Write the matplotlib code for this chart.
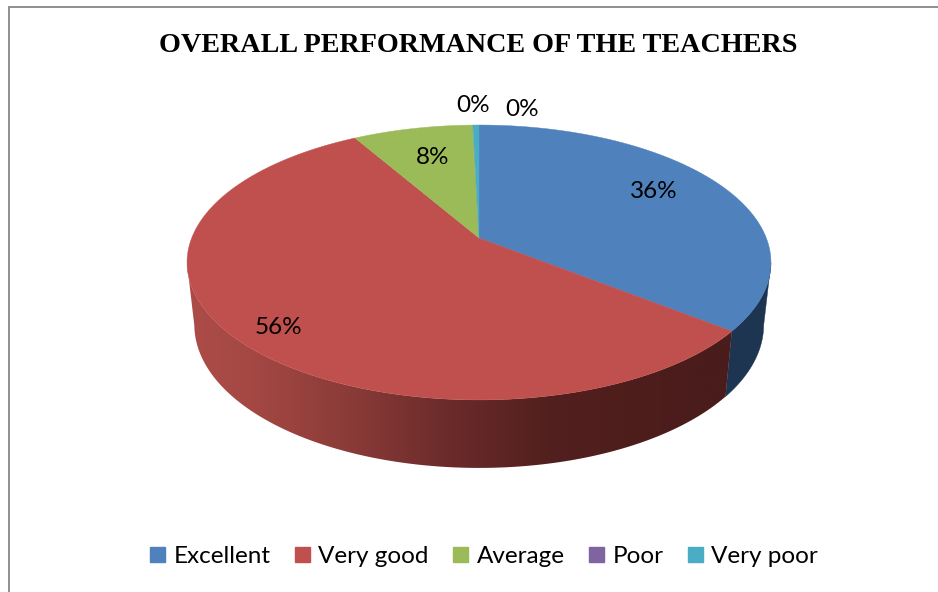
import numpy as np
import matplotlib
matplotlib.use("Agg")
import matplotlib.pyplot as plt
from matplotlib.patches import Rectangle, Polygon

title = "OVERALL PERFORMANCE OF THE TEACHERS"
categories = ["Excellent", "Very good", "Average", "Poor", "Very poor"]
shares = [35.7, 56.0, 7.9, 0.0, 0.4]

top_colors = ["#4F81BD", "#C0504D", "#9BBB59", "#8064A2", "#4BACC6"]
side_dark = ["#1D3550", None, "#5F7537", "#4A3A60", "#2A6A7A"]
red_x = [187, 250, 350, 450, 550, 700, 735]
red_rgb = np.array([[172, 76, 72], [165, 72, 68], [138, 59, 56], [106, 43, 42],
                    [82, 32, 30], [74, 28, 27], [74, 28, 27]]) / 255

fig = plt.figure(figsize=(9.38, 5.92), dpi=100)
ax = fig.add_axes([0, 0, 1, 1])
ax.axis("off")

# chart frame (left and top edges visible)
ax.plot([8.5, 8.5, 938], [592, 6.5, 6.5], color="#868686", lw=1.3, solid_joinstyle="miter")

CX, CY, K, A, B = 479.0, 238.0, 0.178, 287.3, 133.1


def top_xy(theta):
    """theta: clockwise from 12 o'clock, radians."""
    u, v = np.sin(theta), np.cos(theta)
    den = 1 + K * v
    return CX + A * u / den, CY - B * v / den


def bottom_xy(theta):
    x, y = top_xy(theta)
    return CX + 0.975 * (x - CX), y + 61 - 7 * np.cos(theta)


edges = np.cumsum([0] + shares) / 100 * 2 * np.pi

# side wall
for i, col in enumerate(side_dark):
    t0, t1 = edges[i], edges[i + 1]
    if t1 <= t0:
        continue
    th = np.linspace(t0, t1, 400)
    th = th[np.cos(th) <= -K]
    if th.size < 2:
        continue
    xt, yt = top_xy(th)
    xb, yb = bottom_xy(th)
    verts = np.c_[np.r_[xt, xb[::-1]], np.r_[yt, yb[::-1]]]
    if col is None:
        poly = Polygon(verts, closed=True, transform=ax.transData, fc="none", ec="none")
        ax.add_patch(poly)
        grid_x = np.arange(180, 741)
        grad = np.stack([np.interp(grid_x, red_x, red_rgb[:, j]) for j in range(3)], axis=-1)[None, :, :]
        im = ax.imshow(grad, extent=(180, 740, 480, 200), aspect="auto", zorder=2,
                       interpolation="bilinear")
        im.set_clip_path(poly)
    else:
        ax.fill(verts[:, 0], verts[:, 1], color=col, lw=0.3, zorder=2)

ax.set_xlim(0, 938)
ax.set_ylim(592, 0)

# top face
for i, col in enumerate(top_colors):
    t0, t1 = edges[i], edges[i + 1]
    if t1 <= t0:
        continue
    th = np.linspace(t0, t1, 300)
    xs, ys = top_xy(th)
    ax.fill(np.r_[CX, xs], np.r_[CY, ys], color=col, lw=0.3, zorder=3)

ax.text(478.5, 45, title, ha="center", va="center", fontsize=20.25,
        fontweight="bold", family="Liberation Serif", color="black")

label_pos = [(654, 191), (278, 327), (433, 157), (473, 105), (522, 109)]
for s, (x, y) in zip(shares, label_pos):
    ax.text(x, y, f"{round(s)}%", ha="center", va="center", fontsize=17.5,
            family="Lato", color="black", zorder=5)

handles = [Rectangle((0, 0), 1, 1, color=c) for c in top_colors]
ax.legend(handles, categories, loc="center", bbox_to_anchor=(484 / 938, 1 - 556.5 / 592),
          ncols=5, frameon=False, handlelength=0.62, handleheight=0.62,
          handletextpad=0.35, columnspacing=1.0, borderpad=0,
          prop={"family": "Lato", "size": 17.5})

fig.savefig("out.png", dpi=100)
